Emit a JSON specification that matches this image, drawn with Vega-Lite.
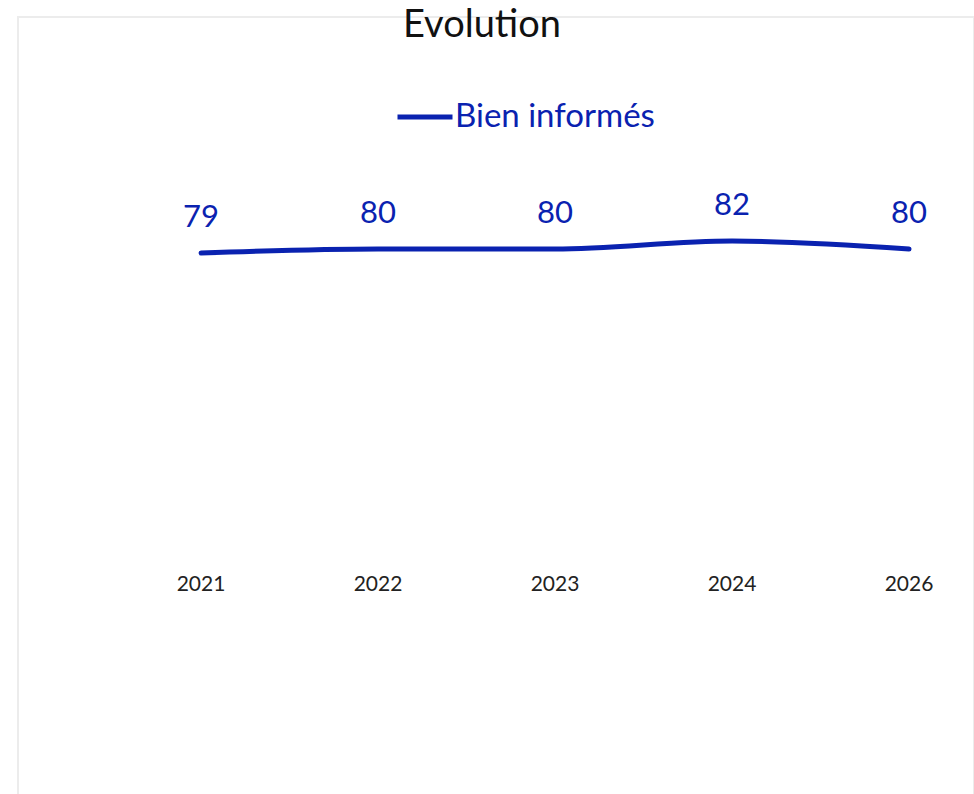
{
  "$schema": "https://vega.github.io/schema/vega-lite/v6.json",
  "width": 956,
  "height": 781,
  "autosize": {"type": "none"},
  "padding": {"left": 18, "top": 17, "right": 0, "bottom": 0},
  "background": "white",
  "title": {
    "text": "Evolution",
    "font": "Century Gothic, Lato, sans-serif",
    "fontSize": 38,
    "fontWeight": "normal",
    "color": "#111111",
    "anchor": "middle",
    "baseline": "middle",
    "offset": 0,
    "dx": -14,
    "dy": 47
  },
  "config": {
    "view": {"stroke": "#ececec", "strokeWidth": 2},
    "font": "Century Gothic, Lato, sans-serif"
  },
  "data": {
    "values": [
      {"annee": "2021", "serie": "Bien informés", "valeur": 79},
      {"annee": "2022", "serie": "Bien informés", "valeur": 80},
      {"annee": "2023", "serie": "Bien informés", "valeur": 80},
      {"annee": "2024", "serie": "Bien informés", "valeur": 82},
      {"annee": "2026", "serie": "Bien informés", "valeur": 80}
    ]
  },
  "encoding": {
    "x": {
      "field": "annee",
      "type": "ordinal",
      "axis": null,
      "scale": {"type": "point", "padding": 0.7006, "align": 0.738}
    },
    "y": {
      "field": "valeur",
      "type": "quantitative",
      "axis": null,
      "scale": {"domain": [-57.25, 138], "nice": false, "zero": false}
    }
  },
  "layer": [
    {
      "mark": {"type": "line", "interpolate": "monotone", "strokeWidth": 5, "strokeCap": "round"},
      "encoding": {
        "color": {
          "field": "serie",
          "type": "nominal",
          "scale": {"range": ["#0a22b0"]},
          "legend": {
            "title": null,
            "orient": "none",
            "legendX": 377,
            "legendY": 70,
            "symbolType": "stroke",
            "symbolSize": 3025,
            "symbolStrokeWidth": 5,
            "labelFontSize": 33,
            "labelLimit": 500,
            "labelColor": "#0a22b0",
            "labelOffset": 0,
            "labelFont": "Century Gothic, Lato, sans-serif"
          }
        }
      }
    },
    {
      "mark": {"type": "text", "fontSize": 31, "color": "#0a22b0", "baseline": "middle", "dy": -35},
      "encoding": {
        "text": {"field": "valeur", "type": "quantitative"}
      }
    },
    {
      "mark": {"type": "text", "fontSize": 21, "color": "#222222", "baseline": "middle", "dy": 16},
      "encoding": {
        "y": {"datum": 0},
        "text": {"field": "annee", "type": "nominal"}
      }
    }
  ]
}
